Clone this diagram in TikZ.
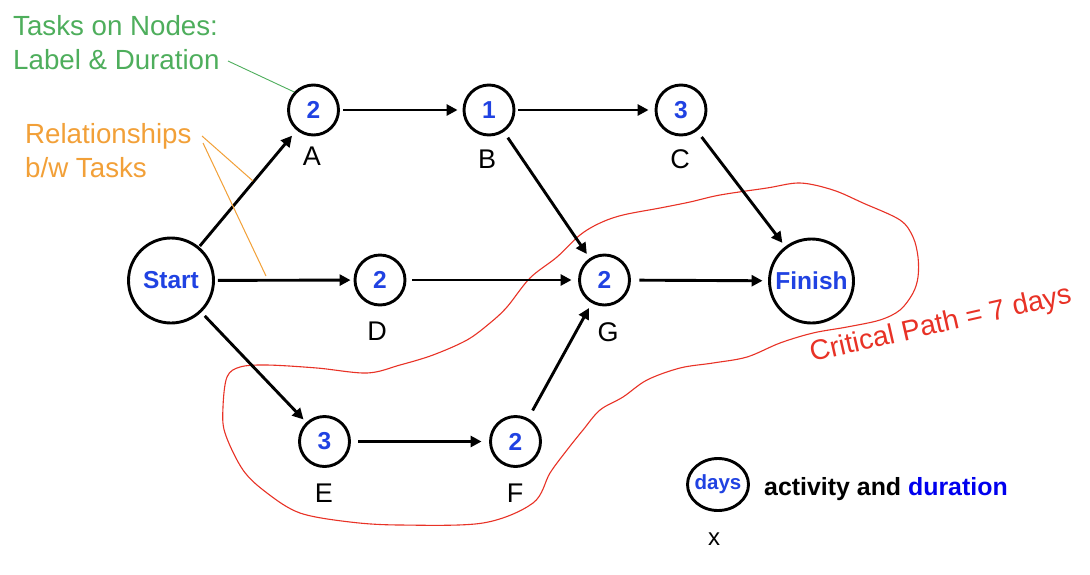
\documentclass[tikz,border=0pt]{standalone}
\usepackage{fontspec}
\setmainfont{Liberation Sans}
\usetikzlibrary{arrows.meta,shapes.geometric}
\newcommand\fsz[1]{\fontsize{#1}{#1}\selectfont}
\definecolor{numblue}{RGB}{32,66,226}
\definecolor{durblue}{RGB}{0,0,238}
\definecolor{notegreen}{RGB}{78,174,92}
\definecolor{noteorange}{RGB}{242,160,56}
\definecolor{critred}{RGB}{232,50,38}
\tikzset{
  task/.style={circle, draw=black, line width=2.9pt, minimum size=50pt, inner sep=0pt,
    font=\bfseries\fsz{24.5}, text=numblue},
  bigtask/.style={task, minimum size=85pt},
  lbl/.style={anchor=base, inner sep=0pt, font=\fsz{27}},
  arr/.style={line width=2.9pt, -{Triangle[length=11pt,width=11pt]}, shorten <=5pt, shorten >=5pt},
  note/.style={anchor=base west, inner sep=0pt, font=\fsz{27.7}},
}
\begin{document}
\begin{tikzpicture}[x=1pt,y=-1pt]
\useasboundingbox[fill=white] (0,0) rectangle (1090,574);

% critical path outline
\draw[critred, line width=1.1pt] plot[smooth cycle, tension=0.55] coordinates {
(533,503) (483,523) (400,525) (350,522) (300,513) (267,493) (243,470) (225,433)
(223,407) (227,377) (240,367) (267,365) (317,368) (367,373) (400,365) (433,355)
(467,340) (490,323) (507,307) (530,278) (557,257) (580,235) (600,223) (623,215)
(660,208) (690,202) (720,195) (767,188) (800,183) (833,190) (863,203) (900,220)
(913,237) (918,257) (918,277) (913,293) (900,310) (880,320) (847,327) (813,333)
(780,343) (747,357) (713,363) (680,368) (647,380) (623,397) (600,410) (583,430)
(567,450) (550,473)};

% task nodes
\node[bigtask] (S) at (171,280.5) {Start};
\node[task] (A) at (313.5,110) {2};
\node[task] (B) at (489,110) {1};
\node[task] (C) at (681,110) {3};
\node[task] (D) at (380,280) {2};
\node[task] (G) at (604.5,280) {2};
\node[bigtask, minimum size=84pt] (Fin) at (811.5,281) {Finish};
\node[task] (E) at (324.5,441.5) {3};
\node[task] (F) at (515.5,441.5) {2};

% labels
\node[lbl] (lA) at (312,165) {A};
\node[lbl] (lB) at (487,168) {B};
\node[lbl] (lC) at (680,168) {C};
\node[lbl] (lD) at (377,340) {D};
\node[lbl] (lG) at (608,341) {G};
\node[lbl] (lE) at (324,502) {E};
\node[lbl] (lF) at (515,502) {F};

% connectors
\draw[arr, shorten <=1pt, shorten >=7pt] (S) -- (A);
\draw[arr, shorten <=3.5pt] (A) -- (B);
\draw[arr, shorten <=3pt, shorten >=6pt] (B) -- (C);
\draw[arr, shorten <=7pt] (B) -- (G);
\draw[arr, shorten <=7.5pt, shorten >=4.5pt] (C) -- (Fin);
\draw[arr, shorten <=3pt, shorten >=3pt] (S) -- (D);
\draw[arr, shorten <=6pt, shorten >=6.5pt] (D) -- (G);
\draw[arr, shorten <=8.5pt, shorten >=5.5pt] (G) -- (Fin);
\draw[arr, shorten <=5pt, shorten >=4pt] (S) -- (E);
\draw[arr, shorten <=7.5pt, shorten >=7.5pt] (E) -- (F);
\draw[arr, shorten <=9pt, shorten >=5.5pt] (F) -- (G);

% annotations
\node[note, text=notegreen] (g1) at (13,35) {Tasks on Nodes:};
\node[note, text=notegreen] (g2) at (13,69) {Label \& Duration};
\coordinate (gs) at (228,61);
\draw[notegreen, line width=0.9pt] (gs) -- (A.137);

\node[note, text=noteorange] (o1) at (25,143) {Relationships};
\node[note, text=noteorange] (o2) at (25,177) {b/w Tasks};
\coordinate (r1) at (202,136);
\coordinate (r2) at (203,143);
\coordinate (e1) at (253,181);
\coordinate (e2) at (266,276);
\draw[noteorange, line width=1pt] (r1) -- (e1);
\draw[noteorange, line width=1pt] (r2) -- (e2);

\node[anchor=base west, inner sep=0pt, font=\fsz{28.2}, text=critred, rotate=12.8] (cp) at (812,362) {Critical Path = 7 days};

% legend
\node[ellipse, draw=black, line width=2.9pt, minimum width=61pt, minimum height=52pt, inner sep=0pt,
  font=\bfseries\fsz{20.5}, text=numblue] (L) at (718,484.5) {\makebox[0pt]{days}};
\node[anchor=base west, inner sep=0pt, font=\bfseries\fsz{24.9}] (Lt) at (764,495) {activity and \textcolor{durblue}{duration}};
\node[anchor=base, inner sep=0pt, font=\fsz{24}] (Lx) at (714,545) {x};
\end{tikzpicture}
\end{document}
